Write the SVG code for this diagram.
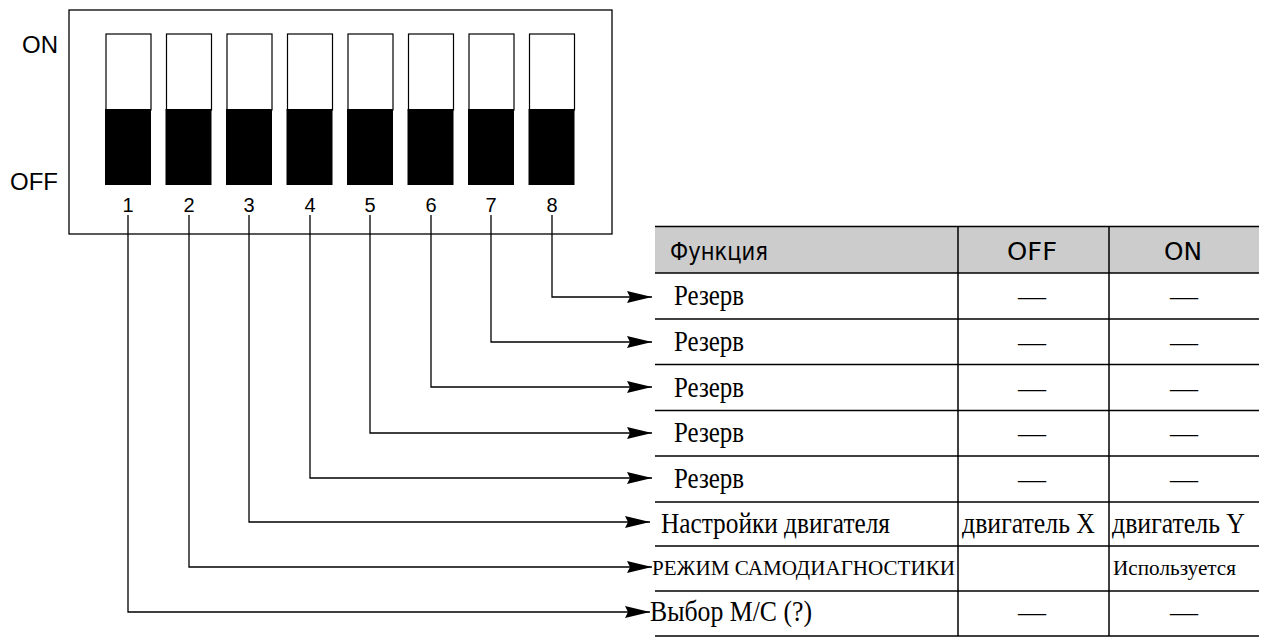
<svg xmlns="http://www.w3.org/2000/svg" width="1265" height="638" viewBox="0 0 1265 638">
<defs>
<style>
.sans{font-family:"Liberation Sans",Arial,sans-serif;fill:#000}
.narrow{font-family:"Liberation Sans Narrow","DejaVu Sans Condensed","Liberation Sans",sans-serif;fill:#000}
.serif{font-family:"Liberation Serif","Times New Roman",serif;fill:#000}
.wire{fill:none;stroke:#000;stroke-width:1.3}
.grid{stroke:#000;stroke-width:1.5}
.sw{fill:#fff;stroke:#000;stroke-width:1.2}
</style>
<marker id="ah" viewBox="0 0 25 12" refX="25" refY="6" markerWidth="25" markerHeight="12" markerUnits="userSpaceOnUse" orient="auto">
<path d="M0,0 L25,6 L0,12 L3,6 Z" fill="#000"/>
</marker>
</defs>
<rect width="1265" height="638" fill="#fff"/>

<g id="dip-switch">
<rect x="69" y="10" width="543" height="224" fill="#fff" stroke="#000" stroke-width="1.3"/>
<text class="sans" x="58" y="53" font-size="24" text-anchor="end">ON</text>
<text class="sans" x="58" y="190" font-size="24" text-anchor="end">OFF</text>
<g id="sw1"><rect class="sw" x="106" y="34" width="45" height="76"/><rect x="105" y="109" width="46" height="76"/><text class="sans" x="128" y="212" font-size="20" text-anchor="middle">1</text></g>
<g id="sw2"><rect class="sw" x="166.5" y="34" width="45" height="76"/><rect x="165.5" y="109" width="46" height="76"/><text class="sans" x="189" y="212" font-size="20" text-anchor="middle">2</text></g>
<g id="sw3"><rect class="sw" x="227" y="34" width="45" height="76"/><rect x="226" y="109" width="46" height="76"/><text class="sans" x="249" y="212" font-size="20" text-anchor="middle">3</text></g>
<g id="sw4"><rect class="sw" x="287.5" y="34" width="45" height="76"/><rect x="286.5" y="109" width="46" height="76"/><text class="sans" x="310" y="212" font-size="20" text-anchor="middle">4</text></g>
<g id="sw5"><rect class="sw" x="348" y="34" width="45" height="76"/><rect x="347" y="109" width="46" height="76"/><text class="sans" x="370" y="212" font-size="20" text-anchor="middle">5</text></g>
<g id="sw6"><rect class="sw" x="408.5" y="34" width="45" height="76"/><rect x="407.5" y="109" width="46" height="76"/><text class="sans" x="431" y="212" font-size="20" text-anchor="middle">6</text></g>
<g id="sw7"><rect class="sw" x="469" y="34" width="45" height="76"/><rect x="468" y="109" width="46" height="76"/><text class="sans" x="491" y="212" font-size="20" text-anchor="middle">7</text></g>
<g id="sw8"><rect class="sw" x="529.5" y="34" width="45" height="76"/><rect x="528.5" y="109" width="46" height="76"/><text class="sans" x="552" y="212" font-size="20" text-anchor="middle">8</text></g>
</g>

<g id="table">
<rect x="655" y="226" width="604" height="47" fill="#cccccc"/>
<line class="grid" x1="655" y1="226.5" x2="1259" y2="226.5" stroke-width="2"/>
<line class="grid" x1="655" y1="273" x2="1259" y2="273" stroke-width="3"/>
<line class="grid" x1="655" y1="319" x2="1259" y2="319"/>
<line class="grid" x1="655" y1="364.5" x2="1259" y2="364.5"/>
<line class="grid" x1="655" y1="410.5" x2="1259" y2="410.5"/>
<line class="grid" x1="655" y1="456" x2="1259" y2="456"/>
<line class="grid" x1="655" y1="502" x2="1259" y2="502"/>
<line class="grid" x1="655" y1="546" x2="1259" y2="546"/>
<line class="grid" x1="655" y1="591" x2="1259" y2="591"/>
<line class="grid" x1="655" y1="636" x2="1259" y2="636"/>
<line class="grid" x1="958" y1="226" x2="958" y2="636"/>
<line class="grid" x1="1109" y1="226" x2="1109" y2="636"/>
<text class="narrow" x="670" y="260" font-size="25" textLength="98" lengthAdjust="spacingAndGlyphs">Функция</text>
<text class="narrow" x="1007" y="260" font-size="25" textLength="50" lengthAdjust="spacingAndGlyphs">OFF</text>
<text class="narrow" x="1164" y="260" font-size="25" textLength="38" lengthAdjust="spacingAndGlyphs">ON</text>
</g>

<g id="row8"><text class="serif" x="674" y="305" font-size="29" textLength="70" lengthAdjust="spacingAndGlyphs">Резерв</text><text class="serif" x="1032" y="305" font-size="28" text-anchor="middle">—</text><text class="serif" x="1184" y="305" font-size="28" text-anchor="middle">—</text></g>
<g id="row7"><text class="serif" x="674" y="351" font-size="29" textLength="70" lengthAdjust="spacingAndGlyphs">Резерв</text><text class="serif" x="1032" y="351" font-size="28" text-anchor="middle">—</text><text class="serif" x="1184" y="351" font-size="28" text-anchor="middle">—</text></g>
<g id="row6"><text class="serif" x="674" y="397" font-size="29" textLength="70" lengthAdjust="spacingAndGlyphs">Резерв</text><text class="serif" x="1032" y="397" font-size="28" text-anchor="middle">—</text><text class="serif" x="1184" y="397" font-size="28" text-anchor="middle">—</text></g>
<g id="row5"><text class="serif" x="674" y="442" font-size="29" textLength="70" lengthAdjust="spacingAndGlyphs">Резерв</text><text class="serif" x="1032" y="442" font-size="28" text-anchor="middle">—</text><text class="serif" x="1184" y="442" font-size="28" text-anchor="middle">—</text></g>
<g id="row4"><text class="serif" x="674" y="488" font-size="29" textLength="70" lengthAdjust="spacingAndGlyphs">Резерв</text><text class="serif" x="1032" y="488" font-size="28" text-anchor="middle">—</text><text class="serif" x="1184" y="488" font-size="28" text-anchor="middle">—</text></g>
<g id="row3"><text class="serif" x="661" y="533" font-size="30" textLength="229" lengthAdjust="spacingAndGlyphs">Настройки двигателя</text><text class="serif" x="962" y="533" font-size="30" textLength="133" lengthAdjust="spacingAndGlyphs">двигатель X</text><text class="serif" x="1112" y="533" font-size="30" textLength="133" lengthAdjust="spacingAndGlyphs">двигатель Y</text></g>
<g id="row2"><text class="serif" x="652" y="575" font-size="20.5" textLength="303" lengthAdjust="spacingAndGlyphs">РЕЖИМ САМОДИАГНОСТИКИ</text><text class="serif" x="1113" y="575" font-size="21" textLength="123" lengthAdjust="spacingAndGlyphs">Используется</text></g>
<g id="row1"><text class="serif" x="650" y="621" font-size="29" textLength="162" lengthAdjust="spacingAndGlyphs">Выбор M/C (?)</text><text class="serif" x="1032" y="621" font-size="28" text-anchor="middle">—</text><text class="serif" x="1184" y="621" font-size="28" text-anchor="middle">—</text></g>

<g id="connectors">
<path class="wire" d="M552,215 V297 H652" marker-end="url(#ah)"/>
<path class="wire" d="M491,215 V342 H652" marker-end="url(#ah)"/>
<path class="wire" d="M431,215 V387 H652" marker-end="url(#ah)"/>
<path class="wire" d="M370,215 V433 H652" marker-end="url(#ah)"/>
<path class="wire" d="M310,215 V478 H652" marker-end="url(#ah)"/>
<path class="wire" d="M249,215 V522 H650" marker-end="url(#ah)"/>
<path class="wire" d="M189,215 V567 H652" marker-end="url(#ah)"/>
<path class="wire" d="M128,215 V612 H650" marker-end="url(#ah)"/>
</g>
</svg>
